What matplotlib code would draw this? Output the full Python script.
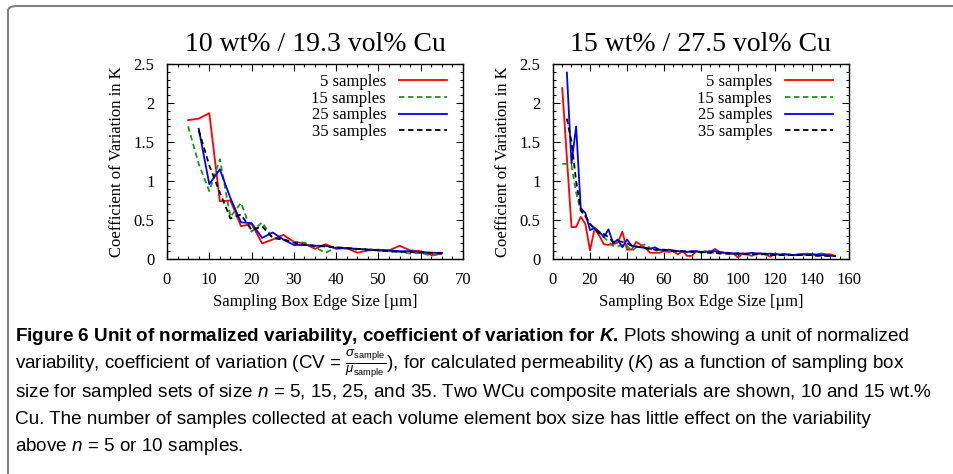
import matplotlib
matplotlib.use("Agg")
import matplotlib.pyplot as plt
from matplotlib.patches import FancyBboxPatch
from matplotlib.ticker import AutoMinorLocator, MultipleLocator

# ---- data: 10 wt% Cu ----
x10_a = [5, 7.5, 10, 12.5, 15, 17.5, 20, 22.5, 25, 27.5, 30, 32.5, 35, 37.5, 40,
         42.5, 45, 47.5, 50, 52.5, 55, 57.5, 60, 62.5, 65]
x10_b = x10_a[1:]
cu10_s5 = [1.78, 1.80, 1.87, 0.74, 0.75, 0.42, 0.45, 0.20, 0.25, 0.31, 0.22, 0.20, 0.13,
           0.19, 0.13, 0.14, 0.08, 0.11, 0.12, 0.11, 0.17, 0.11, 0.10, 0.05, 0.07]
cu10_s15 = [1.70, 1.22, 0.87, 1.28, 0.54, 0.72, 0.35, 0.47, 0.27, 0.25, 0.22, 0.21, 0.15,
            0.08, 0.15, 0.13, 0.12, 0.13, 0.11, 0.10, 0.09, 0.07, 0.08, 0.04, 0.07]
cu10_s25 = [1.67, 0.96, 1.15, 0.78, 0.47, 0.46, 0.27, 0.34, 0.25, 0.18, 0.18, 0.17, 0.17,
            0.14, 0.14, 0.13, 0.12, 0.11, 0.11, 0.10, 0.10, 0.09, 0.08, 0.08]
cu10_s35 = [1.65, 1.20, 0.85, 0.52, 0.57, 0.37, 0.42, 0.27, 0.25, 0.21, 0.18, 0.17, 0.16,
            0.15, 0.14, 0.13, 0.12, 0.11, 0.10, 0.09, 0.09, 0.08, 0.08, 0.07]

# ---- data: 15 wt% Cu ----
x15_all = [5, 7.5, 10, 12.5, 15, 17.5, 20, 22.5, 25, 27.5, 30, 32.5, 35, 37.5, 40, 42.5,
           45, 47.5, 50, 52.5, 55, 57.5, 60, 62.5, 65, 67.5, 70, 72.5, 75, 77.5, 80, 82.5,
           85, 87.5, 90, 92.5, 95, 97.5, 100, 102.5, 105, 107.5, 110, 112.5, 115, 117.5,
           120, 122.5, 125, 127.5, 130, 132.5, 135, 137.5, 140, 142.5, 145, 147.5, 150, 152.5]
x15_s5 = [5] + x15_all[2:]
x15_b = x15_all[1:]
cu15_s5 = [2.19, 0.41, 0.41, 0.54, 0.45, 0.11, 0.39, 0.30, 0.19, 0.18, 0.19, 0.21, 0.35,
           0.12, 0.12, 0.22, 0.18, 0.14, 0.08, 0.08, 0.08, 0.10, 0.09, 0.10, 0.06, 0.10,
           0.04, 0.04, 0.10, 0.08, 0.10, 0.08, 0.13, 0.09, 0.08, 0.06, 0.07, 0.02, 0.07,
           0.06, 0.04, 0.07, 0.07, 0.06, 0.03, 0.07, 0.05, 0.06, 0.05, 0.05, 0.05, 0.06,
           0.07, 0.06, 0.06, 0.07, 0.06, 0.06, 0.04]
cu15_s15 = [1.22, 1.22, 1.20, 0.85, 0.62, 0.55, 0.45, 0.40, 0.33, 0.28, 0.22, 0.17, 0.16,
            0.18, 0.17, 0.10, 0.15, 0.17, 0.19, 0.14, 0.10, 0.12, 0.11, 0.10, 0.09, 0.10,
            0.09, 0.09, 0.10, 0.09, 0.09, 0.10, 0.09, 0.08, 0.09, 0.07, 0.07, 0.06, 0.07,
            0.06, 0.07, 0.06, 0.06, 0.07, 0.07, 0.06, 0.06, 0.05, 0.06, 0.05, 0.05, 0.05,
            0.06, 0.05, 0.05, 0.05, 0.05, 0.05, 0.04, 0.04]
cu15_s25 = [2.39, 1.22, 1.70, 0.65, 0.59, 0.37, 0.40, 0.35, 0.28, 0.38, 0.20, 0.25, 0.15,
            0.25, 0.17, 0.16, 0.15, 0.14, 0.13, 0.15, 0.12, 0.11, 0.12, 0.11, 0.10, 0.10,
            0.09, 0.10, 0.10, 0.09, 0.09, 0.10, 0.10, 0.09, 0.08, 0.08, 0.07, 0.07, 0.07,
            0.07, 0.08, 0.07, 0.07, 0.06, 0.07, 0.06, 0.06, 0.06, 0.06, 0.05, 0.06, 0.06,
            0.05, 0.06, 0.05, 0.05, 0.05, 0.04, 0.04]
cu15_s35 = [1.80, 1.50, 1.00, 0.63, 0.55, 0.45, 0.38, 0.33, 0.32, 0.28, 0.22, 0.23, 0.22,
            0.20, 0.17, 0.16, 0.15, 0.14, 0.13, 0.12, 0.12, 0.12, 0.11, 0.10, 0.10, 0.10,
            0.10, 0.09, 0.09, 0.09, 0.08, 0.08, 0.08, 0.07, 0.07, 0.07, 0.07, 0.07, 0.06,
            0.06, 0.06, 0.06, 0.06, 0.06, 0.05, 0.05, 0.05, 0.05, 0.05, 0.05, 0.05, 0.05,
            0.05, 0.05, 0.04, 0.04, 0.04, 0.04, 0.04]

labels = ["5 samples", "15 samples", "25 samples", "35 samples"]
titles = ["10 wt% / 19.3 vol% Cu", "15 wt% / 27.5 vol% Cu"]

SERIF = "Liberation Serif"
CAP = "Liberation Sans"

plt.rcParams.update({
    "font.family": SERIF,
    "font.size": 12,
    "mathtext.fontset": "custom",
    "mathtext.rm": CAP,
    "mathtext.it": CAP + ":italic",
    "mathtext.bf": CAP + ":bold",
    "mathtext.bfit": CAP + ":bold:italic",
})

W, H = 954, 474
fig = plt.figure(figsize=(W / 100, H / 100), dpi=100)

# caption frame (open to the right and bottom)
fig.patches.append(FancyBboxPatch((8 / W, -0.5), 1.2, 1.5 - 6 / H,
                                  boxstyle="round,pad=0,rounding_size=0.01",
                                  transform=fig.transFigure, fc="none", ec="#808080",
                                  lw=1.5))

styles = [dict(color="#ff0000", ls="-"), dict(color="#1a961a", ls=(0, (3, 2))),
          dict(color="#0000ff", ls="-"), dict(color="black", ls=(0, (3, 2)))]

panels = [
    (167, [(x10_a, cu10_s5), (x10_a, cu10_s15), (x10_b, cu10_s25), (x10_b, cu10_s35)],
     70, 10),
    (553, [(x15_s5, cu15_s5), (x15_all, cu15_s15), (x15_b, cu15_s25), (x15_b, cu15_s35)],
     160, 20),
]

for (left, series, xmax, xstep), title in zip(panels, titles):
    ax = fig.add_axes([left / W, 1 - 259 / H, 296 / W, 195 / H])
    for (xs, ys), lab, st in zip(series, labels, styles):
        ax.plot(xs, ys, lw=1.3, label=lab, **st)
    ax.set_xlim(0, xmax)
    ax.set_ylim(0, 2.5)
    ax.xaxis.set_major_locator(MultipleLocator(xstep))
    ax.yaxis.set_major_locator(MultipleLocator(0.5))
    ax.xaxis.set_minor_locator(AutoMinorLocator(4))
    ax.yaxis.set_minor_locator(AutoMinorLocator(5))
    ax.yaxis.set_major_formatter(plt.FuncFormatter(lambda v, p: f"{v:g}"))
    ax.tick_params(which="both", direction="in", top=True, right=True, pad=9)
    ax.tick_params(which="major", length=5, width=0.8)
    ax.tick_params(which="minor", length=2.5, width=0.8)
    for sp in ax.spines.values():
        sp.set_linewidth(1.0)
    ax.set_title(title, fontsize=20, pad=9)
    ax.set_xlabel("Sampling Box Edge Size [µm]", labelpad=5)
    ax.set_ylabel("Coefficient of Variation in K", labelpad=6)
    ax.legend(loc="upper right", bbox_to_anchor=(0.985, 1.01), frameon=False,
              markerfirst=False, handlelength=2.9, handletextpad=0.75,
              labelspacing=0.05, borderaxespad=0.3)

# caption
r = fig.canvas.get_renderer()
fs = 13.6
x0 = 15 / W
ys = [341, 369, 397, 424, 451]
t1 = fig.text(x0, 1 - ys[0] / H,
              r"Figure 6 Unit of normalized variability, coefficient of variation for $\mathbfit{K}$.",
              family=CAP, weight="bold", fontsize=fs, va="baseline")
bb = t1.get_window_extent(r)
fig.text(bb.x1 / W + 0.28 * fs * 100 / 72 / W, 1 - ys[0] / H,
         "Plots showing a unit of normalized", family=CAP, fontsize=fs, va="baseline")
rest = [
    r"variability, coefficient of variation (CV = $\frac{\sigma_{\mathrm{sample}}}{\mu_{\mathrm{sample}}}$), "
    r"for calculated permeability ($K$) as a function of sampling box",
    r"size for sampled sets of size $n$ = 5, 15, 25, and 35. Two WCu composite materials are shown, 10 and 15 wt.%",
    "Cu. The number of samples collected at each volume element box size has little effect on the variability",
    r"above $n$ = 5 or 10 samples.",
]
for y, s in zip(ys[1:], rest):
    fig.text(x0, 1 - y / H, s, family=CAP, fontsize=fs, va="baseline")

fig.savefig("out.png", dpi=100)
